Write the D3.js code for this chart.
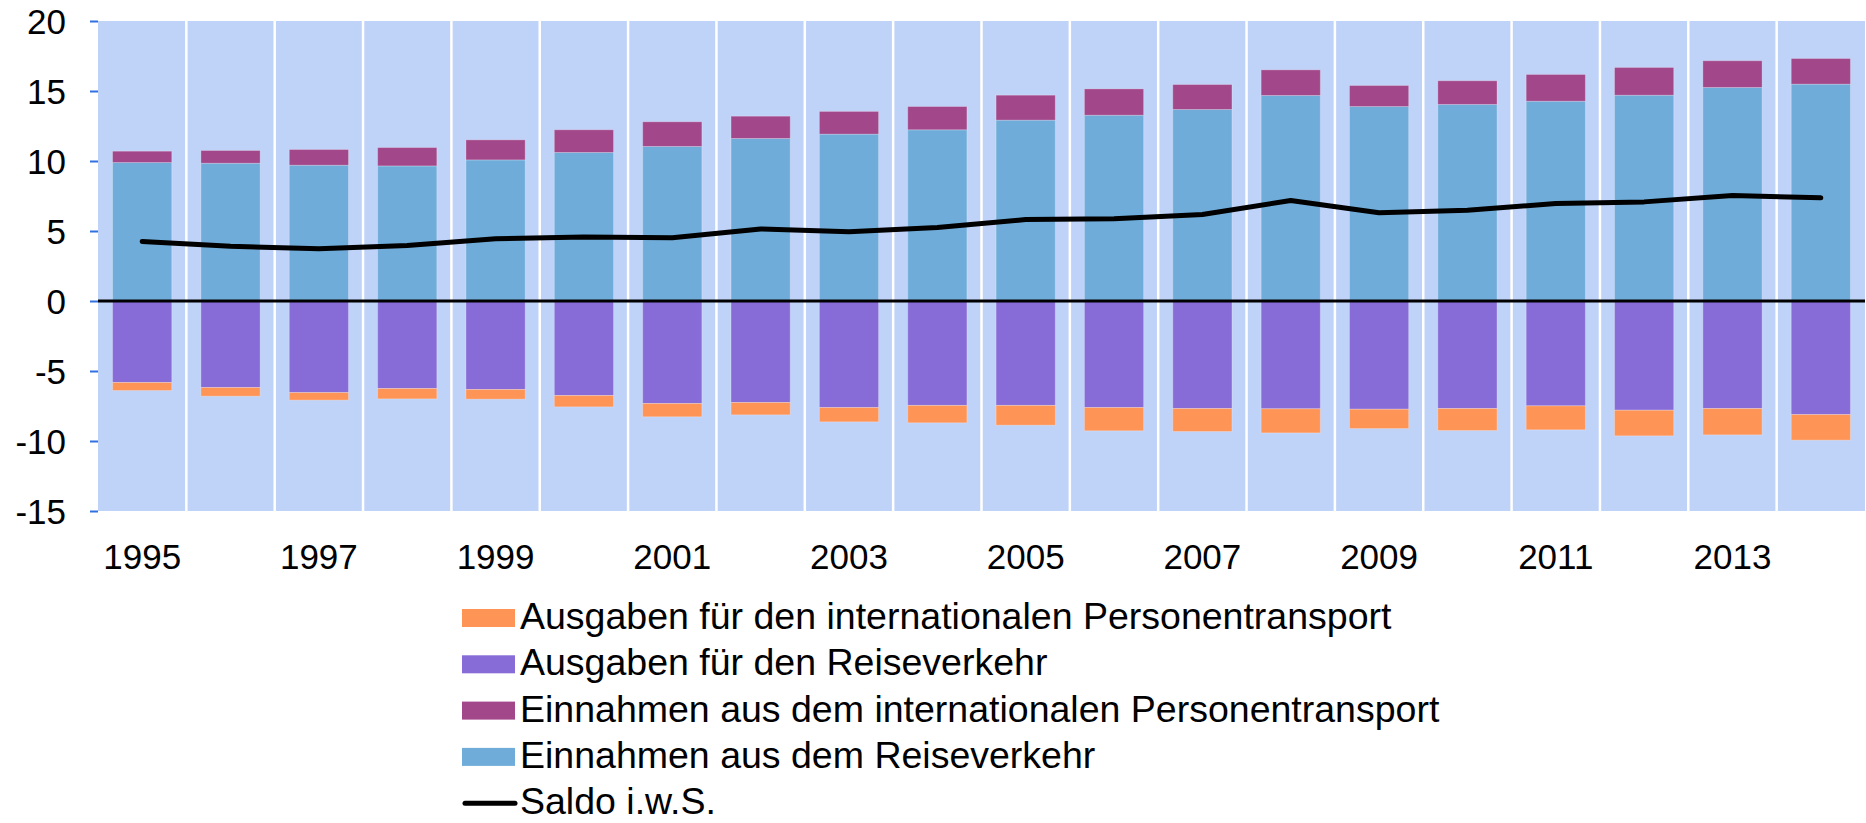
<!DOCTYPE html>
<meta charset="utf-8">
<script src="https://d3js.org/d3.v7.min.js"></script>
<style>
  body { margin: 0; background: #fff; }
  text { font-family: "Liberation Sans", Arial, sans-serif; fill: #000; }
</style>
<div id="chart"></div>
<script>
// years on the x axis
var years = d3.range(1995, 2015).map(String);

// Einnahmen aus dem Reiseverkehr
var einReise = [9.89, 9.84, 9.70, 9.65, 10.08, 10.61, 11.04, 11.61, 11.92, 12.23,
                12.92, 13.27, 13.68, 14.68, 13.89, 14.04, 14.27, 14.70, 15.25, 15.49];
// Einnahmen aus dem internationalen Personentransport
var einTrans = [0.81, 0.91, 1.12, 1.31, 1.43, 1.62, 1.76, 1.59, 1.62, 1.66,
                1.78, 1.88, 1.78, 1.83, 1.50, 1.69, 1.91, 1.98, 1.91, 1.83];
// Ausgaben fuer den Reiseverkehr
var ausReise = [-5.82, -6.18, -6.54, -6.25, -6.32, -6.75, -7.32, -7.25, -7.61, -7.46,
                -7.46, -7.61, -7.68, -7.70, -7.73, -7.68, -7.49, -7.80, -7.68, -8.11];
// Ausgaben fuer den internationalen Personentransport
var ausTrans = [-0.57, -0.62, -0.54, -0.74, -0.69, -0.81, -0.95, -0.88, -1.02, -1.24,
                -1.41, -1.66, -1.64, -1.72, -1.38, -1.57, -1.71, -1.83, -1.88, -1.83];
// Saldo i.w.S.
var saldo = [4.25, 3.91, 3.73, 3.96, 4.44, 4.58, 4.51, 5.15, 4.94, 5.25,
             5.82, 5.87, 6.18, 7.18, 6.30, 6.49, 6.96, 7.08, 7.54, 7.37];

var yTicks = [-15, -10, -5, 0, 5, 10, 15, 20];

var keys = ["einReise", "einTrans", "ausReise", "ausTrans"];
var colors = {
    einReise: "#6facd9",
    einTrans: "#a2478a",
    ausReise: "#876cd8",
    ausTrans: "#ff9457"
};
var legendItems = [
    {key: "ausTrans", label: "Ausgaben für den internationalen Personentransport"},
    {key: "ausReise", label: "Ausgaben für den Reiseverkehr"},
    {key: "einTrans", label: "Einnahmen aus dem internationalen Personentransport"},
    {key: "einReise", label: "Einnahmen aus dem Reiseverkehr"},
    {key: "saldo", label: "Saldo i.w.S."}
];

var table = years.map(function(y, i) {
    return {year: y, einReise: einReise[i], einTrans: einTrans[i],
            ausReise: ausReise[i], ausTrans: ausTrans[i], saldo: saldo[i]};
});

var width = 1866, height = 823;
var plot = {left: 98, right: 1865, top: 21, bottom: 511};

var svg = d3.select("#chart").append("svg")
    .attr("width", width)
    .attr("height", height);

var x = d3.scaleBand()
    .domain(years)
    .range([plot.left, plot.right])
    .paddingInner(0)
    .paddingOuter(0);

var y = d3.scaleLinear()
    .domain([-15, 20])
    .range([plot.bottom, plot.top]);

// plot background
svg.append("rect")
    .attr("x", plot.left)
    .attr("y", plot.top)
    .attr("width", plot.right - plot.left)
    .attr("height", plot.bottom - plot.top)
    .attr("fill", "#bfd2f8");

// white separators between the years
svg.append("g")
    .selectAll("line")
    .data(years.slice(1))
    .join("line")
        .attr("x1", function(d) { return x(d); })
        .attr("x2", function(d) { return x(d); })
        .attr("y1", plot.top)
        .attr("y2", plot.bottom)
        .attr("stroke", "#fff")
        .attr("stroke-width", 2.5);

// stacked bars
var stack = d3.stack()
    .keys(keys)
    .offset(d3.stackOffsetDiverging);
var series = stack(table);

var barW = x.bandwidth() * 0.67;

svg.append("g")
    .selectAll("g")
    .data(series)
    .join("g")
        .attr("fill", function(d) { return colors[d.key]; })
    .selectAll("rect")
    .data(function(d) { return d; })
    .join("rect")
        .attr("x", function(d) { return x(d.data.year) + (x.bandwidth() - barW) / 2; })
        .attr("width", barW)
        .attr("y", function(d) { return y(Math.max(d[0], d[1])); })
        .attr("height", function(d) { return Math.abs(y(d[0]) - y(d[1])); })
        .attr("stroke", "rgba(255,255,255,0.25)")
        .attr("stroke-width", 1);

// y axis (plain hyphen for negatives, like the original)
var yAxis = svg.append("g")
    .attr("transform", "translate(" + plot.left + ",0)")
    .call(d3.axisLeft(y).tickValues(yTicks).tickSize(8).tickPadding(24)
        .tickFormat(function(d) { return String(d); }));
yAxis.select(".domain").remove();
yAxis.selectAll(".tick line").attr("stroke", "#2f6fe0").attr("stroke-width", 2);
yAxis.selectAll(".tick text")
    .attr("font-size", 35)
    .attr("font-family", "Liberation Sans, Arial, sans-serif")
    .attr("fill", "#000")
    .attr("dy", "0.36em");

// zero line
svg.append("line")
    .attr("x1", plot.left)
    .attr("x2", plot.right)
    .attr("y1", y(0))
    .attr("y2", y(0))
    .attr("stroke", "#000")
    .attr("stroke-width", 3);

// x labels, every second year
svg.append("g")
    .selectAll("text")
    .data(years.filter(function(d, i) { return i % 2 === 0; }))
    .join("text")
        .attr("x", function(d) { return x(d) + x.bandwidth() / 2; })
        .attr("y", 569)
        .attr("text-anchor", "middle")
        .attr("font-size", 35)
        .text(function(d) { return d; });

// saldo line
var line = d3.line()
    .x(function(d) { return x(d.year) + x.bandwidth() / 2; })
    .y(function(d) { return y(d.saldo); });

svg.append("path")
    .datum(table)
    .attr("d", line)
    .attr("fill", "none")
    .attr("stroke", "#000")
    .attr("stroke-width", 5)
    .attr("stroke-linejoin", "round")
    .attr("stroke-linecap", "round");

// legend
var legend = svg.append("g")
    .selectAll("g")
    .data(legendItems)
    .join("g")
        .attr("transform", function(d, i) { return "translate(462," + (618 + i * 46.3) + ")"; });

legend.filter(function(d) { return d.key !== "saldo"; })
    .append("rect")
        .attr("x", 0)
        .attr("y", -9)
        .attr("width", 53)
        .attr("height", 18)
        .attr("fill", function(d) { return colors[d.key]; });

legend.filter(function(d) { return d.key === "saldo"; })
    .append("line")
        .attr("x1", 3)
        .attr("x2", 53)
        .attr("y1", 0)
        .attr("y2", 0)
        .attr("stroke", "#000")
        .attr("stroke-width", 5)
        .attr("stroke-linecap", "round");

legend.append("text")
    .attr("x", 58)
    .attr("y", 11)
    .attr("font-size", 37.5)
    .text(function(d) { return d.label; });
</script>
